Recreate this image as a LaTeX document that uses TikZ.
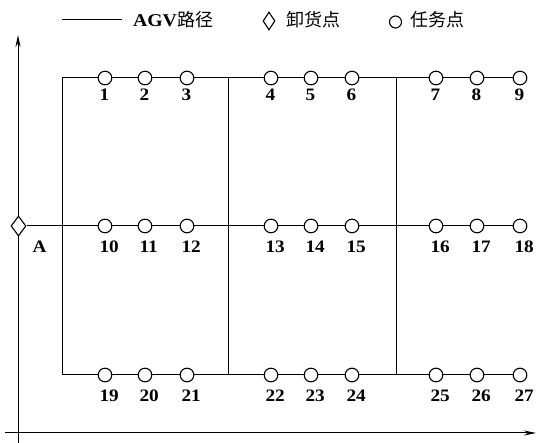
\documentclass[tikz,border=0pt]{standalone}
\usepackage{fontspec}
\setmainfont[FakeStretch=1.1]{Liberation Serif}
\newfontfamily\cjk{Noto Sans CJK SC}
\usetikzlibrary{arrows.meta,shapes.geometric}
\begin{document}
\begin{tikzpicture}[x=1pt,y=-1pt,
  line width=1pt,
  task/.style={circle,draw,fill=white,minimum size=13.6pt,inner sep=0pt,line width=1.1pt},
  unload/.style={diamond,draw,fill=white,minimum width=15pt,minimum height=20pt,inner sep=0pt,line width=1.1pt},
  lbl/.style={anchor=west,inner sep=0pt,font=\fontsize{17.5}{20}\selectfont\bfseries},
  leg/.style={anchor=west,inner sep=0pt,font=\fontsize{18}{20}\selectfont},
  axisline/.style={line width=1pt,-{Stealth[length=12pt,width=5pt]}}]
\useasboundingbox (0,0) rectangle (536,443);
% axes
\coordinate (yb) at (18,443);
\coordinate (yt) at (18,35);
\coordinate (xl) at (5,433);
\coordinate (xr) at (536,433);
\draw[axisline] (yb) -- (yt);
\draw[axisline] (xl) -- (xr);
% legend
\coordinate (lg1) at (62,20);
\coordinate (lg2) at (122,20);
\draw (lg1) -- (lg2);
\node[leg] (lgt1) at (132.5,20) {\bfseries AGV\cjk\mdseries 路径};
\node[unload,minimum width=12pt,minimum height=18pt] (lgd) at (269,21) {};
\node[leg] (lgt2) at (286,20) {\cjk 卸货点};
\node[circle,draw,minimum size=12pt,inner sep=0pt,line width=1.1pt] (lgc) at (395.5,22) {};
\node[leg] (lgt3) at (410,20) {\cjk 任务点};
% corners
\coordinate (TL) at (62,78);  \coordinate (TM) at (228,78);  \coordinate (TR) at (396,78);
\coordinate (ML) at (62,226); \coordinate (MM) at (228,226); \coordinate (MR) at (396,226);
\coordinate (BL) at (62,375); \coordinate (BM) at (228,375); \coordinate (BR) at (396,375);
% unloading point
\node[unload] (dA) at (18.5,226) {};
\node[lbl] (lA) at (32,247) {A};
% task points
\foreach \n/\x in {1/105,2/145,3/187,4/271,5/311,6/352,7/436,8/477,9/520}{
  \node[task] (t\n) at (\x,78) {};
  \node[lbl] (l\n) at (\x-6,95) {\n};
}
\foreach \n/\x in {10/105,11/145,12/187,13/271,14/311,15/352,16/436,17/477,18/520}{
  \node[task] (t\n) at (\x,226) {};
  \node[lbl] (l\n) at (\x-6,247) {\n};
}
\foreach \n/\x in {19/105,20/145,21/187,22/271,23/311,24/352,25/436,26/477,27/520}{
  \node[task] (t\n) at (\x,375) {};
  \node[lbl] (l\n) at (\x-6,396) {\n};
}
% paths
\draw (TL) -- (BL) (TM) -- (BM) (TR) -- (BR);
\draw (TL) -- (t1) (t1) -- (t2) (t2) -- (t3) (t3) -- (TM) (TM) -- (t4) (t4) -- (t5) (t5) -- (t6) (t6) -- (TR) (TR) -- (t7) (t7) -- (t8) (t8) -- (t9);
\draw (dA) -- (ML) (ML) -- (t10) (t10) -- (t11) (t11) -- (t12) (t12) -- (MM) (MM) -- (t13) (t13) -- (t14) (t14) -- (t15) (t15) -- (MR) (MR) -- (t16) (t16) -- (t17) (t17) -- (t18);
\draw (BL) -- (t19) (t19) -- (t20) (t20) -- (t21) (t21) -- (BM) (BM) -- (t22) (t22) -- (t23) (t23) -- (t24) (t24) -- (BR) (BR) -- (t25) (t25) -- (t26) (t26) -- (t27);
\end{tikzpicture}
\end{document}
